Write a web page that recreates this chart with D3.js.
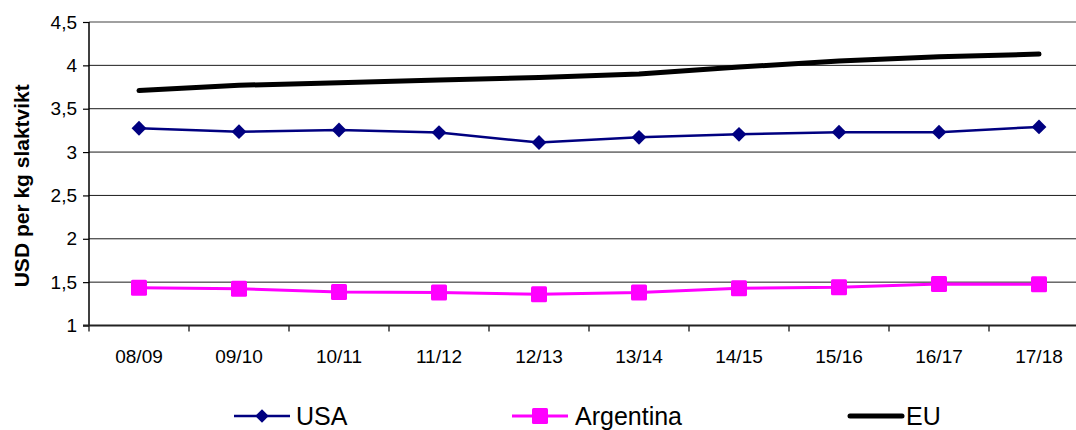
<!DOCTYPE html>
<html>
<head>
<meta charset="utf-8">
<script src="https://cdn.jsdelivr.net/npm/d3@7"></script>
<style>
  html, body { margin: 0; padding: 0; background: #fff; }
  svg { display: block; font-family: "Liberation Sans", Arial, sans-serif; }
</style>
</head>
<body>
<svg id="chart" width="1076" height="430"></svg>
<script>
// Marketing years
const seasons = ["08/09", "09/10", "10/11", "11/12", "12/13", "13/14", "14/15", "15/16", "16/17", "17/18"];

// Price, USD per kg carcass weight
const usa       = [3.275, 3.235, 3.255, 3.225, 3.11, 3.17, 3.205, 3.23, 3.23, 3.29];
const argentina = [1.435, 1.425, 1.385, 1.38, 1.36, 1.38, 1.43, 1.44, 1.48, 1.475];
const eu        = [3.71, 3.77, 3.80, 3.83, 3.86, 3.90, 3.98, 4.05, 4.10, 4.13];

// Value axis ticks
const yTicks = [1, 1.5, 2, 2.5, 3, 3.5, 4, 4.5];
const yTitle = "USD per kg slaktvikt";

const svg = d3.select("#chart");

const plot = { left: 89, right: 1089, top: 22, bottom: 325.5 };

const x = d3.scaleBand().domain(seasons).range([plot.left, plot.right]).padding(0);
const y = d3.scaleLinear().domain([1, 4.5]).range([plot.bottom, plot.top]);
const cx = d => x(d) + x.bandwidth() / 2;

// Horizontal gridlines
svg.append("g")
  .selectAll("line")
  .data(yTicks.filter(t => t > 1))
  .join("line")
  .attr("x1", plot.left).attr("x2", plot.right)
  .attr("y1", d => y(d)).attr("y2", d => y(d))
  .attr("stroke", d => d === 4.5 ? "#808080" : "#1a1a1a")
  .attr("stroke-width", d => d === 4.5 ? 1.6 : 1);

// Y axis
const yAxis = d3.axisLeft(y).tickValues(yTicks).tickSize(6).tickPadding(6)
  .tickFormat(d => d3.format("")(d).replace(".", ","));
const gy = svg.append("g").attr("transform", `translate(${plot.left},0)`).call(yAxis);
gy.select(".domain").remove();
gy.selectAll(".tick line").attr("stroke", "#000").attr("stroke-width", 1.2);
gy.selectAll(".tick text").attr("font-size", 19).attr("fill", "#000");
svg.append("line")
  .attr("x1", plot.left).attr("x2", plot.left)
  .attr("y1", plot.top).attr("y2", plot.bottom)
  .attr("stroke", "#000").attr("stroke-width", 1.5);

// X axis: ticks sit between categories, labels centred on each
const edges = seasons.map(s => x(s)).concat([plot.right]);
svg.append("g").selectAll("line")
  .data(edges)
  .join("line")
  .attr("x1", d => d).attr("x2", d => d)
  .attr("y1", plot.bottom).attr("y2", plot.bottom + 6)
  .attr("stroke", "#000").attr("stroke-width", 1.2);
svg.append("line")
  .attr("x1", plot.left - 6).attr("x2", plot.right)
  .attr("y1", plot.bottom).attr("y2", plot.bottom)
  .attr("stroke", "#222").attr("stroke-width", 2);
svg.append("g").selectAll("text")
  .data(seasons)
  .join("text")
  .attr("x", d => cx(d))
  .attr("y", plot.bottom + 37)
  .attr("text-anchor", "middle")
  .attr("font-size", 19)
  .text(d => d);

// Y title
svg.append("text")
  .attr("transform", `translate(29,${(plot.top + plot.bottom) / 2 + 12}) rotate(-90)`)
  .attr("text-anchor", "middle")
  .attr("font-size", 21)
  .attr("font-weight", "bold")
  .text(yTitle);

const line = d3.line().x((d, i) => cx(seasons[i])).y(d => y(d));

// EU
svg.append("path")
  .attr("d", line(eu))
  .attr("fill", "none").attr("stroke", "#000").attr("stroke-width", 5)
  .attr("stroke-linecap", "round").attr("stroke-linejoin", "round");

// USA
svg.append("path")
  .attr("d", line(usa))
  .attr("fill", "none").attr("stroke", "#000080").attr("stroke-width", 2.5);
const diamond = d3.symbol().type(d3.symbolSquare).size(110);
svg.append("g").selectAll("path")
  .data(usa)
  .join("path")
  .attr("d", diamond)
  .attr("transform", (d, i) => `translate(${cx(seasons[i])},${y(d)}) rotate(45)`)
  .attr("fill", "#000080");

// Argentina
svg.append("path")
  .attr("d", line(argentina))
  .attr("fill", "none").attr("stroke", "#ff00ff").attr("stroke-width", 3);
svg.append("g").selectAll("rect")
  .data(argentina)
  .join("rect")
  .attr("x", (d, i) => cx(seasons[i]) - 8)
  .attr("y", d => y(d) - 8)
  .attr("width", 16).attr("height", 16)
  .attr("rx", 1.5)
  .attr("fill", "#ff00ff");

// Legend
const legendY = 416;
const legend = [
  { name: "USA", color: "#000080", x0: 234, x1: 290, tx: 296, marker: "diamond", w: 2.5 },
  { name: "Argentina", color: "#ff00ff", x0: 512, x1: 568, tx: 575, marker: "square", w: 3 },
  { name: "EU", color: "#000", x0: 850, x1: 902, tx: 906, marker: null, w: 5 }
];
const lg = svg.append("g").selectAll("g").data(legend).join("g");
lg.append("line")
  .attr("x1", d => d.x0).attr("x2", d => d.x1)
  .attr("y1", legendY).attr("y2", legendY)
  .attr("stroke", d => d.color).attr("stroke-width", d => d.w)
  .attr("stroke-linecap", d => d.marker ? "butt" : "round");
lg.filter(d => d.marker === "diamond").append("path")
  .attr("d", d3.symbol().type(d3.symbolSquare).size(90))
  .attr("transform", d => `translate(${(d.x0 + d.x1) / 2},${legendY}) rotate(45)`)
  .attr("fill", d => d.color);
lg.filter(d => d.marker === "square").append("rect")
  .attr("x", d => (d.x0 + d.x1) / 2 - 8).attr("y", legendY - 8)
  .attr("width", 16).attr("height", 16).attr("rx", 1.5)
  .attr("fill", d => d.color);
lg.append("text")
  .attr("x", d => d.tx).attr("y", legendY + 9)
  .attr("font-size", 25)
  .text(d => d.name);
</script>
</body>
</html>
